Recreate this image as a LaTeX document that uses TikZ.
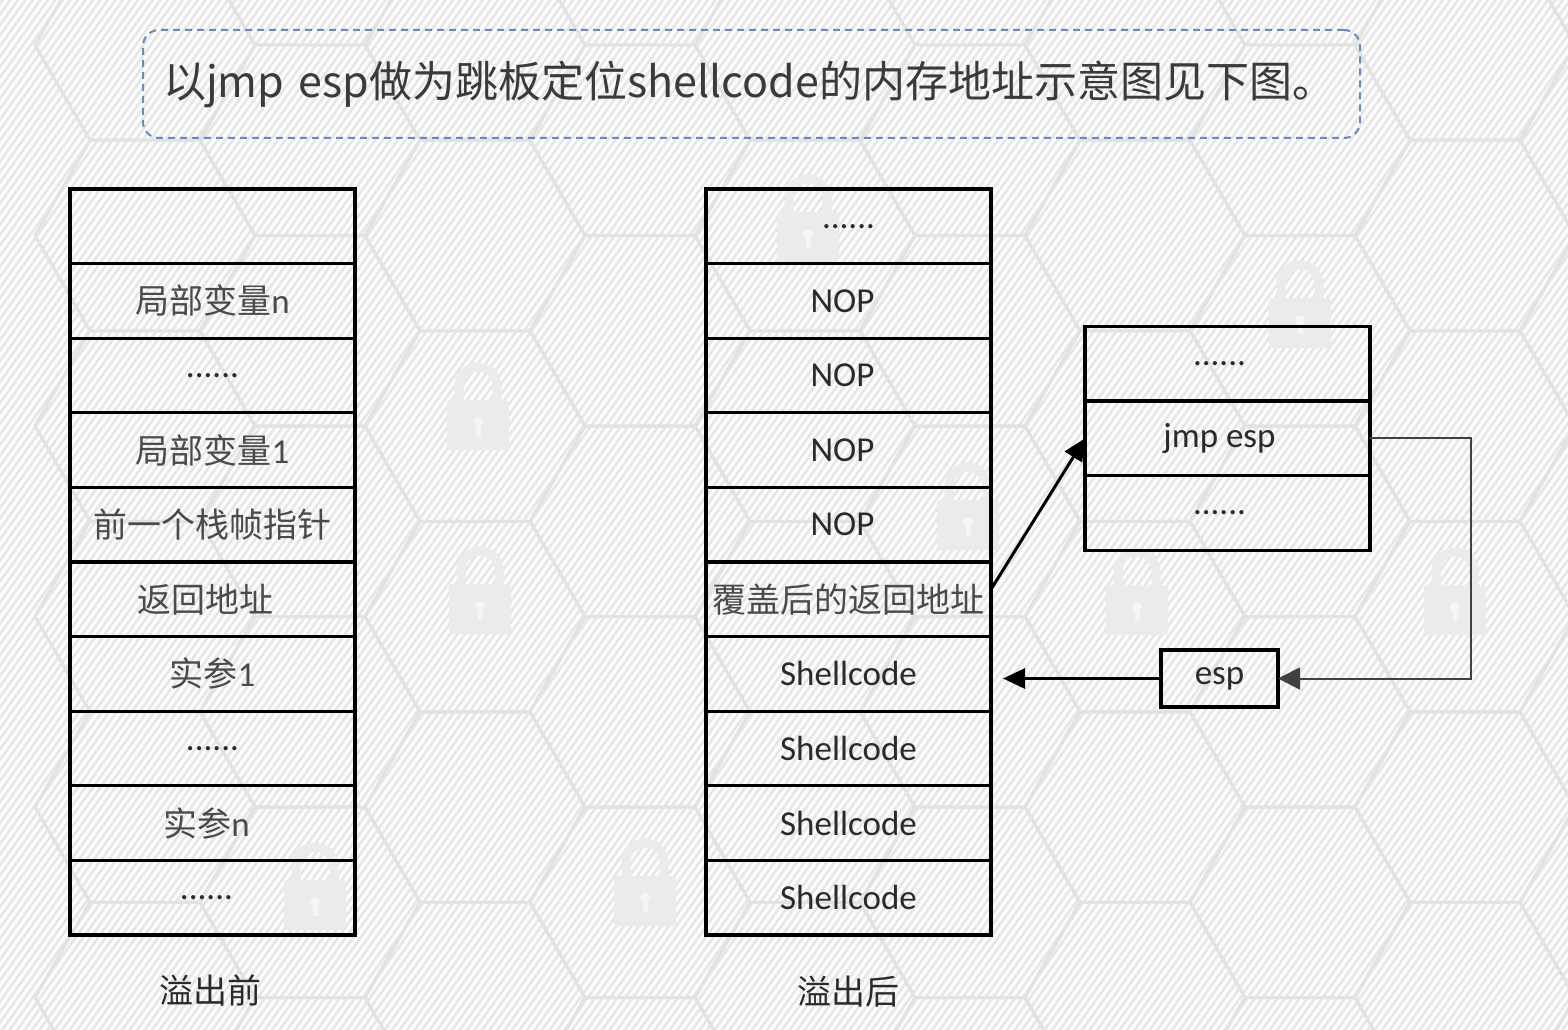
\documentclass[tikz,border=0pt]{standalone}
\usepackage{fontspec}
\setmainfont{Carlito}
\newfontfamily\cjk{Noto Sans CJK SC}
\usetikzlibrary{arrows.meta}
\definecolor{bgc}{HTML}{FCFCFC}
\definecolor{hatchc}{HTML}{E6E6E6}
\definecolor{hexc}{HTML}{E2E2E2}
\definecolor{lockc}{HTML}{EBEBEB}
\definecolor{titleline}{HTML}{6A8BB8}
\definecolor{txt}{HTML}{2A2A2A}
\definecolor{titletxt}{HTML}{3A3A3A}
\definecolor{cjktxt}{HTML}{4A4A4A}
\newcommand\lockicon[2]{%
  \draw[lockc,line width=9pt] (#1-19,#2-18) -- (#1-19,#2-34) arc(180:360:19) -- (#1+19,#2-18);
  \fill[lockc,rounded corners=3pt] (#1-31,#2-20) rectangle (#1+31,#2+30);
  \fill[bgc!60!lockc] (#1,#2+2) circle (5pt);
  \fill[bgc!60!lockc] (#1-2.5,#2+2) rectangle (#1+2.5,#2+16);
}
\begin{document}
\begin{tikzpicture}[x=1pt,y=-1pt,
  cell/.style={draw=black, line width=3.2pt, minimum width=285pt, minimum height=74.6pt,
    inner sep=0pt, outer sep=0pt, text=txt, font=\fontsize{35}{40}\selectfont},
  cjkcell/.style={cell, text=cjktxt, font=\cjk\fontsize{34}{40}\selectfont},
  espbox/.style={draw=black, line width=3.2pt, minimum width=117pt, minimum height=57pt,
    inner sep=0pt, outer sep=0pt, text=txt, font=\fontsize{35}{40}\selectfont},
  titlebox/.style={draw=titleline, line width=2pt, dash pattern=on 7pt off 5pt,
    rounded corners=16pt, minimum width=1217pt, minimum height=108pt,
    text width=1177pt, inner xsep=20pt, align=left, text=titletxt,
    font=\cjk\fontsize{43}{50}\selectfont},
  caption/.style={text=txt, font=\cjk\fontsize{34}{40}\selectfont},
  hatch/.style={draw=hatchc, line width=2.6pt},
  hexline/.style={draw=hexc, line width=3pt, line join=round},
  bigarrow/.style={line width=3pt, -{Triangle[length=22pt,width=20pt]}},
  thinarrow/.style={draw=black!75, line width=2pt, -{Triangle[length=22pt,width=22pt]}}
]
% ---------- background ----------
\fill[bgc] (0,0) rectangle (1568,1030);
\useasboundingbox (0,0) rectangle (1568,1030);
\begin{scope}
  \clip (0,0) rectangle (1568,1030);
  \foreach \i in {0,...,312} {
    \draw[hatch] (-740+7.5*\i,1040) -- ++(750,-1050);
  }
  \foreach \k in {-2,...,7} {
    \foreach \j in {-2,...,5} {
      \pgfmathsetmacro\cx{475+165*\k}
      \pgfmathsetmacro\cy{426+190.5*\j+95.25*mod(\k+4,2)}
      \draw[hexline] (\cx+110,\cy) -- (\cx+55,\cy+95.25) -- (\cx-55,\cy+95.25)
        -- (\cx-110,\cy) -- (\cx-55,\cy-95.25) -- (\cx+55,\cy-95.25) -- cycle;
    }
  }
  \lockicon{478}{420}
  \lockicon{480}{604}
  \lockicon{645}{896}
  \lockicon{315}{900}
  \lockicon{808}{232}
  \lockicon{968}{520}
  \lockicon{1137}{605}
  \lockicon{1300}{318}
  \lockicon{1455}{605}
\end{scope}

% ---------- title ----------
\node[titlebox] (title) at (751.5,84) {以jmp esp做为跳板定位shellcode的内存地址示意图见下图。};

% ---------- left stack (before overflow) ----------
\node[cell]    (L0) at (212.5,226.3) {};
\node[cjkcell] (L1) at (212.5,300.9) {局部变量{\fontspec{Carlito}\fontsize{35}{40}\selectfont n}};
\node[cell]    (L2) at (212.5,375.5) {......};
\node[cjkcell] (L3) at (212.5,450.1) {局部变量{\fontspec{Carlito}\fontsize{35}{40}\selectfont 1}};
\node[cjkcell] (L4) at (212.5,524.7) {前一个栈帧指针};
\node[cjkcell] (L5) at (212.5,599.3) {\hspace*{-14pt}返回地址};
\node[cjkcell] (L6) at (212.5,673.9) {实参{\fontspec{Carlito}\fontsize{35}{40}\selectfont 1}};
\node[cell]    (L7) at (212.5,748.5) {......};
\node[cjkcell] (L8) at (212.5,823.1) {\hspace*{-12pt}实参{\fontspec{Carlito}\fontsize{35}{40}\selectfont n}};
\node[cell]    (L9) at (212.5,897.7) {\hspace*{-12pt}......};
\node[caption] (capL) at (210,990) {溢出前};

% ---------- right stack (after overflow) ----------
\node[cell]    (R0) at (848.5,226.3) {......};
\node[cell]    (R1) at (848.5,300.9) {\hspace*{-12pt}NOP};
\node[cell]    (R2) at (848.5,375.5) {\hspace*{-12pt}NOP};
\node[cell]    (R3) at (848.5,450.1) {\hspace*{-12pt}NOP};
\node[cell]    (R4) at (848.5,524.7) {\hspace*{-12pt}NOP};
\node[cjkcell] (R5) at (848.5,599.3) {覆盖后的返回地址};
\node[cell]    (R6) at (848.5,673.9) {Shellcode};
\node[cell]    (R7) at (848.5,748.5) {Shellcode};
\node[cell]    (R8) at (848.5,823.1) {Shellcode};
\node[cell]    (R9) at (848.5,897.7) {Shellcode};
\node[caption] (capR) at (848,992) {溢出后};

% ---------- small stack with jmp esp ----------
\node[cell] (S0) at (1227.5,363.6) {\hspace*{-16pt}......};
\node[cell] (S1) at (1227.5,438.3) {\hspace*{-16pt}jmp esp};
\node[cell] (S2) at (1227.5,513.0) {\hspace*{-16pt}......};

% ---------- esp register ----------
\node[espbox] (esp) at (1219.5,678.5) {esp};

% ---------- connectors ----------
\draw[bigarrow] ([yshift=10pt]R5.east) -- (S1.west);
\draw[bigarrow, shorten >=12pt] (esp.west) -- (esp.west -| R6.east);
\draw[thinarrow] (S1.east) -- ++(101,0) |- (esp.east);
\end{tikzpicture}
\end{document}
